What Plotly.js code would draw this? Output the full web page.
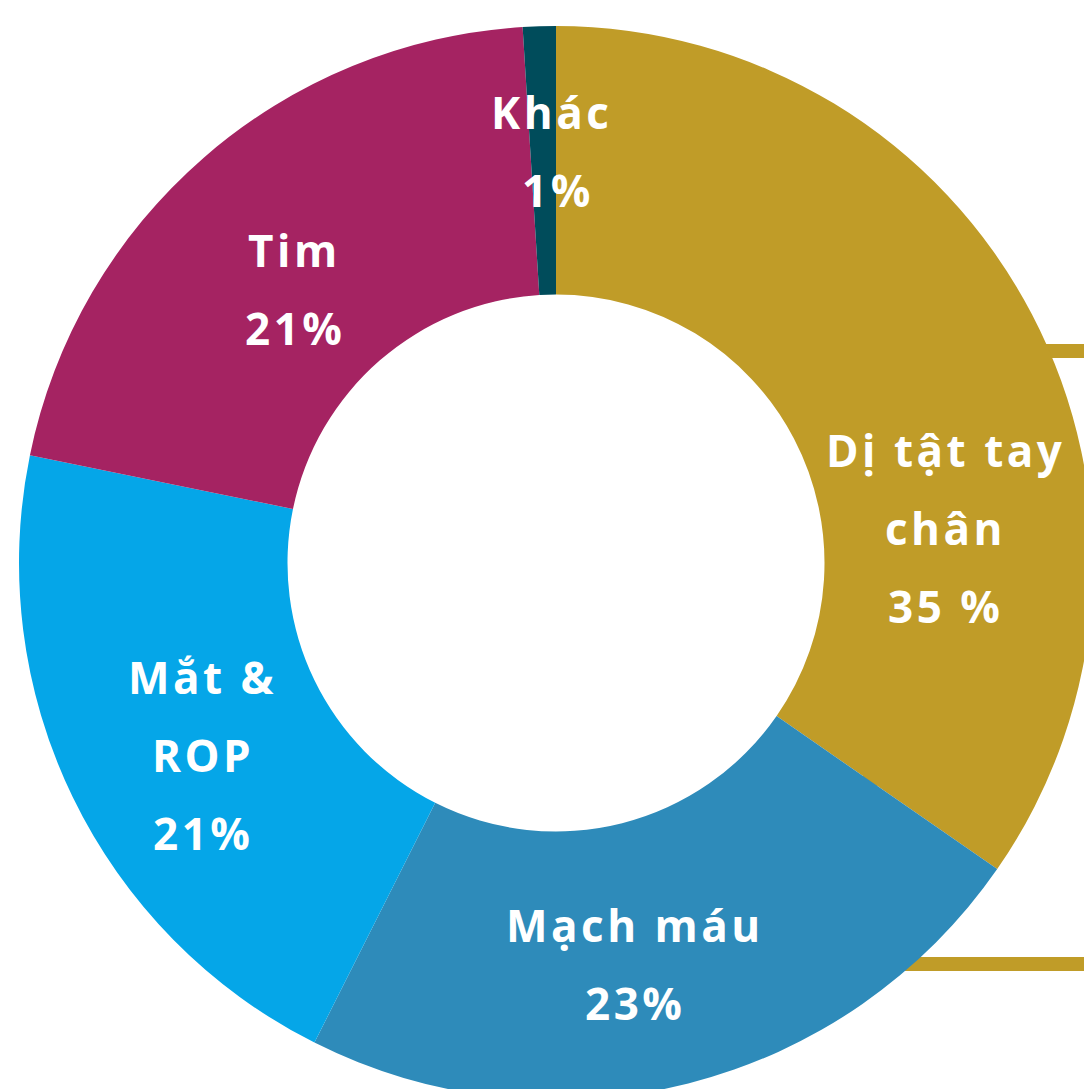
<!DOCTYPE html>
<html>
<head>
<meta charset="utf-8">
<script src="https://cdn.plot.ly/plotly-3.0.1.min.js"></script>
<style>
html,body{margin:0;padding:0;overflow:hidden;background:#fff;}
#chart{width:1100px;height:1110px;}
.annotation-text{letter-spacing:3.5px;}
</style>
</head>
<body>
<div id="chart"></div>
<script>
// Data
var categories = ["Dị tật tay chân", "Mạch máu", "Mắt & ROP", "Tim", "Khác"];
var values = [35, 23, 21, 21, 1];
var labelLines = [["Dị tật tay", "chân"], ["Mạch máu"], ["Mắt &", "ROP"], ["Tim"], ["Khác"]];
var pctLabels = ["35 %", "23%", "21%", "21%", "1%"];
var colors = ["#C09C28", "#2E8BBA", "#05A6E8", "#A52362", "#004C5B"];

// Layout geometry (pixels in the plot div)
var W = 1100, H = 1110;
var cx = 556, cy = 563, R = 537;
var labelAnchors = [[944, 465], [633, 940], [201, 692], [293, 265], [550, 127]];
var lineStep = 78;
var fontSize = 44;

var annotations = [];
labelLines.forEach(function (lines, i) {
  var all = lines.concat([pctLabels[i]]);
  all.forEach(function (t, j) {
    var base = labelAnchors[i][1] + j * lineStep;
    var px = labelAnchors[i][0];
    if (i === 4 && j === 1) px = 556;
    annotations.push({
      xref: "paper", yref: "paper",
      x: (px + 1.75) / W, y: 1 - (base - 15) / H,
      xanchor: "center", yanchor: "middle",
      text: t, showarrow: false,
      font: {family: "'Open Sans', Roboto, sans-serif", size: fontSize, color: "#ffffff", weight: 700}
    });
  });
});

var trace = {
  type: "pie",
  labels: categories,
  values: values,
  hole: 0.5,
  sort: false,
  direction: "clockwise",
  rotation: 0,
  marker: {colors: colors, line: {width: 0}},
  textinfo: "none",
  hoverinfo: "label+percent",
  domain: {x: [(cx - R) / W, (cx + R) / W], y: [1 - (cy + R) / H, 1 - (cy - R) / H]},
  showlegend: false
};

var layout = {
  width: W, height: H,
  margin: {l: 0, r: 0, t: 0, b: 0},
  paper_bgcolor: "#ffffff",
  showlegend: false,
  annotations: annotations,
  shapes: [{
    type: "rect", xref: "paper", yref: "paper", layer: "below",
    x0: 870 / W, x1: 1.1, y0: 1 - 964 / H, y1: 1 - 351 / H,
    line: {color: "#C09C28", width: 14}, fillcolor: "rgba(0,0,0,0)"
  }]
};

Plotly.newPlot("chart", [trace], layout, {displayModeBar: false, staticPlot: true});
</script>
</body>
</html>
